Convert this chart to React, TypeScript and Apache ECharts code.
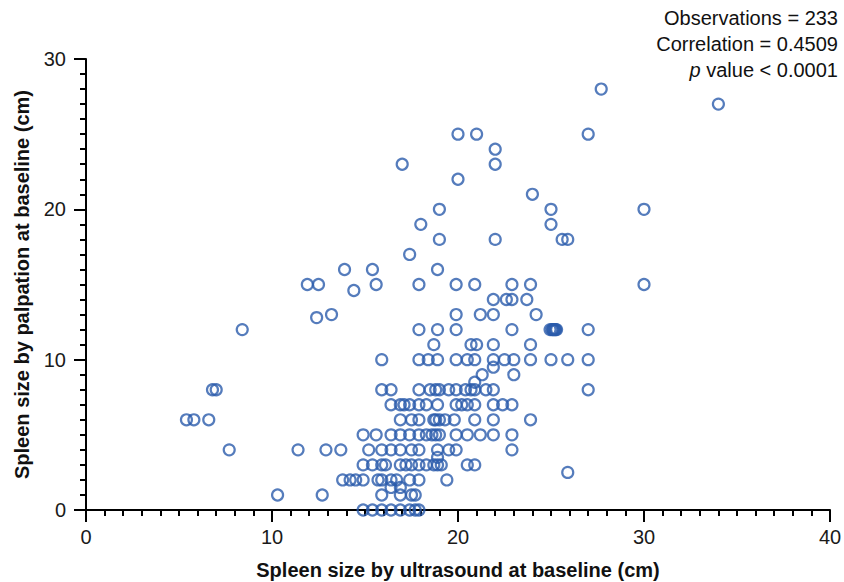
import React, { useEffect, useRef } from 'react';
import * as echarts from 'echarts';

// Palpation size (cm) levels, and the ultrasound sizes (cm) of the patients at each level
const palpationLevels = [28, 27, 25, 24, 23, 22, 21, 20, 19, 18, 17, 16, 15, 14.6, 14, 13, 12.8, 12, 11, 10, 9.5, 9, 8.5, 8, 7, 6, 5, 4, 3.5, 3, 2.5, 2, 1.5, 1, 0];
const ultrasoundByLevel = [
  [27.7],
  [34],
  [20, 21, 27],
  [22],
  [17, 22],
  [20],
  [24],
  [19, 25, 30],
  [18, 25],
  [19, 22, 25.6, 25.9],
  [17.4],
  [13.9, 15.4, 18.9],
  [11.9, 12.5, 15.6, 17.9, 19.9, 20.9, 22.9, 23.9, 30],
  [14.4],
  [21.9, 22.6, 22.9, 23.7],
  [13.2, 19.9, 21.2, 21.9, 24.2],
  [12.4],
  [8.4, 17.9, 18.9, 19.9, 22.9, 24.95, 25.05, 25.1, 25.15, 25.2, 25.25, 25.3, 27],
  [18.7, 20.7, 21, 21.9, 23.9],
  [15.9, 17.9, 18.4, 18.9, 19.9, 20.5, 20.9, 21.9, 22.5, 23, 23.9, 25, 25.9, 27],
  [21.9],
  [21.3, 23],
  [20.9],
  [6.8, 7, 15.9, 16.4, 17.9, 18.5, 18.8, 19, 19.5, 19.9, 20.4, 20.7, 20.9, 21.5, 21.9, 27],
  [16.4, 16.9, 17.1, 17.4, 17.9, 18.3, 18.9, 19.9, 20.2, 20.5, 20.9, 21.9, 22.4, 22.9],
  [5.4, 5.8, 6.6, 16.9, 17.5, 17.9, 18.7, 18.8, 19, 19.3, 19.8, 20.9, 21.9, 23.9],
  [14.9, 15.6, 16.4, 16.9, 17.4, 17.9, 18.3, 18.6, 18.8, 19, 19.9, 20.5, 21.2, 21.9, 22.9],
  [7.7, 11.4, 12.9, 13.7, 15.2, 15.9, 16.4, 16.9, 17.5, 17.9, 18.9, 19.5, 19.9, 22.9],
  [18.9],
  [14.9, 15.4, 15.9, 16.1, 16.9, 17.2, 17.5, 17.9, 18.3, 18.7, 18.9, 19.1, 20.5, 20.9],
  [25.9],
  [13.8, 14.2, 14.5, 14.9, 15.7, 15.9, 16.4, 16.7, 17.4, 17.9, 19.4],
  [16.4, 16.9],
  [10.3, 12.7, 15.9, 16.9, 17.5, 17.7],
  [14.9, 15.4, 15.9, 16.4, 16.9, 17.4, 17.7, 17.9],
];

const xAxisTitle = 'Spleen size by ultrasound at baseline (cm)';
const yAxisTitle = 'Spleen size by palpation at baseline (cm)';
const statsLines = ['Observations = 233', 'Correlation = 0.4509', '{i|p} value < 0.0001'];

const FONT = '"Liberation Sans", Arial, Helvetica, sans-serif';
const BLUE = '#2a5bab';

export default function App() {
  const ref = useRef<HTMLDivElement>(null);

  useEffect(() => {
    if (!ref.current) return;
    const chart = echarts.init(ref.current, undefined, { renderer: 'svg' });
    const points = palpationLevels.flatMap((y, i) => ultrasoundByLevel[i].map((x) => [x, y]));

    const axisCommon = {
      type: 'value' as const,
      splitLine: { show: false },
      axisLine: { show: true, onZero: false, lineStyle: { color: '#000', width: 2 } },
      axisTick: { show: true, inside: false, length: 12, lineStyle: { color: '#000', width: 2 } },
      minorTick: { show: true, splitNumber: 10, length: 6, lineStyle: { color: '#000', width: 2 } },
      nameLocation: 'middle' as const,
      nameTextStyle: { fontSize: 20, fontWeight: 'bold' as const, color: '#111', fontFamily: FONT },
    };

    chart.setOption({
      animation: false,
      backgroundColor: '#fff',
      textStyle: { fontFamily: FONT },
      grid: { left: 86, right: 14, top: 59, bottom: 72, containLabel: false, outerBoundsMode: 'none' },
      xAxis: {
        ...axisCommon,
        min: 0,
        max: 40,
        interval: 10,
        name: xAxisTitle,
        nameGap: 50,
        axisLabel: { fontSize: 20, color: '#1a1a1a', margin: 17, fontFamily: FONT },
      },
      yAxis: {
        ...axisCommon,
        min: 0,
        max: 30,
        interval: 10,
        name: yAxisTitle,
        nameGap: 54,
        nameRotate: 90,
        axisLabel: { fontSize: 20, color: '#1a1a1a', margin: 20, fontFamily: FONT },
      },
      graphic: statsLines.map((t, i) => ({
        type: 'text',
        right: 6,
        top: 8 + i * 26,
        style: {
          text: t,
          fill: '#111',
          font: `20px ${FONT}`,
          textAlign: 'right',
          rich: { i: { fontStyle: 'italic', fontSize: 20, fontFamily: FONT, fill: '#111' } },
        },
      })),
      series: [
        {
          type: 'scatter',
          data: points,
          symbol: 'circle',
          symbolSize: 11,
          itemStyle: { color: 'rgba(255,255,255,0)', borderColor: BLUE, borderWidth: 2.2 },
          emphasis: { disabled: true },
        },
      ],
    });

    return () => chart.dispose();
  }, []);

  return <div ref={ref} style={{ position: 'fixed', left: 0, top: 0, width: 844, height: 582 }} />;
}
